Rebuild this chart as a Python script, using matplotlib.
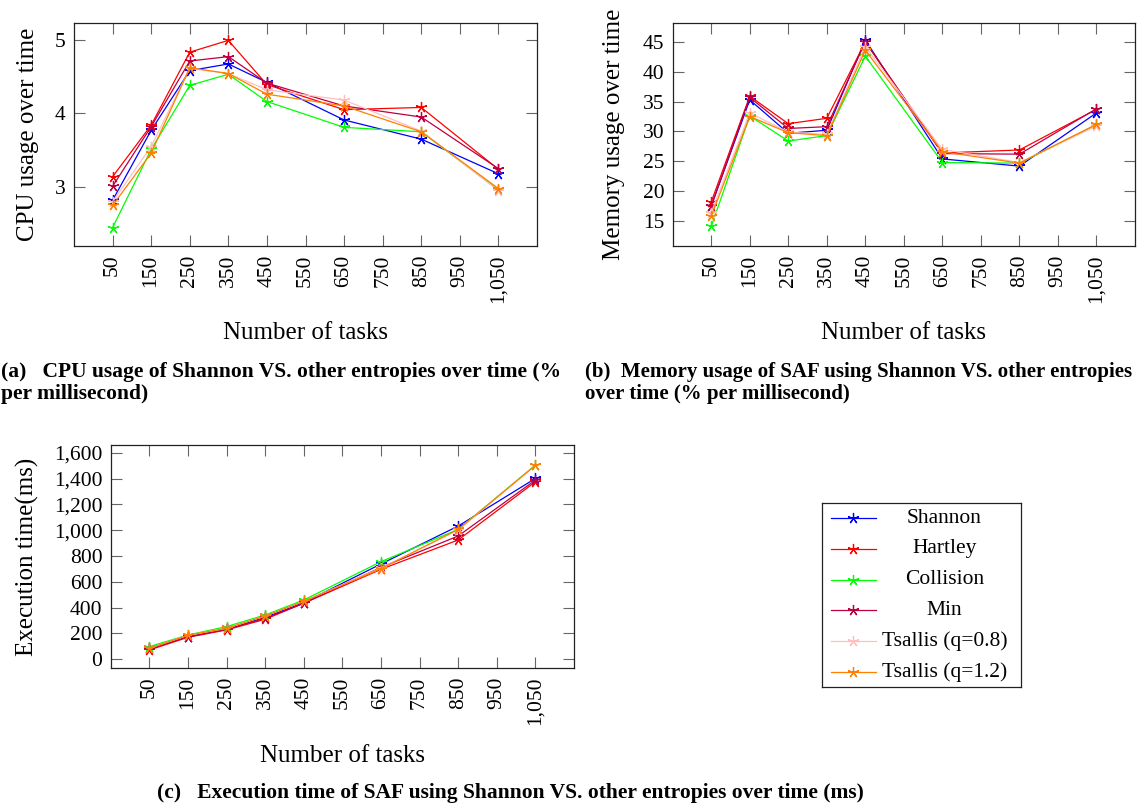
import matplotlib
matplotlib.use("Agg")
import matplotlib.pyplot as plt
from matplotlib.ticker import FuncFormatter, FixedLocator

plt.rcParams['font.family'] = ['Liberation Serif', 'DejaVu Serif']
plt.rcParams['mathtext.fontset'] = 'stix'

tasks = [50, 150, 250, 350, 450, 650, 850, 1050]
xticks = [50, 150, 250, 350, 450, 550, 650, 750, 850, 950, 1050]
series_names = ["Shannon", "Hartley", "Collision", "Min", "Tsallis (q=0.8)", "Tsallis (q=1.2)"]
series_colors = ["#0000FF", "#FF0000", "#00FF00", "#BF0040", "#FFBFBF", "#FF8000"]

# (a) CPU usage (% per millisecond)
cpu_shannon = [2.82, 3.77, 4.58, 4.67, 4.42, 3.91, 3.65, 3.18]
cpu_hartley = [3.14, 3.84, 4.83, 4.99, 4.39, 4.05, 4.08, 3.24]
cpu_collision = [2.45, 3.51, 4.38, 4.53, 4.16, 3.81, 3.75, 2.96]
cpu_min = [3.01, 3.82, 4.71, 4.77, 4.41, 4.10, 3.95, 3.25]
cpu_ts08 = [2.80, 3.55, 4.61, 4.54, 4.32, 4.18, 3.76, 2.95]
cpu_ts12 = [2.75, 3.46, 4.62, 4.54, 4.26, 4.10, 3.75, 2.98]

# (b) Memory usage (% per millisecond)
mem_shannon = [17.5, 35.3, 29.7, 30.2, 45.3, 25.4, 24.2, 33.1]
mem_hartley = [18.2, 35.9, 31.3, 32.2, 45.0, 26.4, 26.9, 33.7]
mem_collision = [14.1, 32.6, 28.4, 29.3, 42.6, 24.8, 24.7, 31.1]
mem_min = [17.5, 35.7, 30.5, 30.8, 45.0, 26.3, 26.2, 33.8]
mem_ts08 = [16.4, 33.1, 29.9, 29.5, 44.2, 27.0, 24.8, 30.9]
mem_ts12 = [15.8, 32.5, 29.8, 29.3, 43.6, 26.6, 24.7, 31.2]

# (c) Execution time (ms)
exe_shannon = [85, 175, 232, 325, 439, 738, 1032, 1401]
exe_hartley = [72, 170, 227, 310, 434, 697, 924, 1375]
exe_collision = [98, 188, 253, 343, 459, 756, 1006, 1505]
exe_min = [77, 175, 232, 317, 434, 712, 955, 1388]
exe_ts08 = [85, 186, 240, 335, 449, 707, 1001, 1502]
exe_ts12 = [85, 186, 240, 335, 449, 702, 1006, 1502]

cpu_all = [cpu_shannon, cpu_hartley, cpu_collision, cpu_min, cpu_ts08, cpu_ts12]
mem_all = [mem_shannon, mem_hartley, mem_collision, mem_min, mem_ts08, mem_ts12]
exe_all = [exe_shannon, exe_hartley, exe_collision, exe_min, exe_ts08, exe_ts12]

W, H = 1144, 806
fig = plt.figure(figsize=(W / 100, H / 100), dpi=100)


def box(l, t, r, b):
    return [l / W, 1 - b / H, (r - l) / W, (b - t) / H]


TICK_FS = 15.5
LABEL_FS = 18
CAP_FS = 15.5
thousands = FuncFormatter(lambda v, p: f"{v:,.0f}")


def style(ax, ylim, yticks, ylabel, ylabelx):
    ax.set_xlim(-50, 1150)
    ax.set_ylim(*ylim)
    ax.xaxis.set_major_locator(FixedLocator(xticks))
    ax.yaxis.set_major_locator(FixedLocator(yticks))
    ax.xaxis.set_major_formatter(thousands)
    ax.yaxis.set_major_formatter(thousands)
    ax.tick_params(direction='in', length=8, width=0.8, color='#666666',
                   top=True, right=True, labelsize=TICK_FS, pad=6)
    for lab in ax.get_xticklabels():
        lab.set_rotation(90)
    for s in ax.spines.values():
        s.set_linewidth(0.9)
        s.set_color('#222222')
    ax.set_xlabel("Number of tasks", fontsize=LABEL_FS, labelpad=14)
    ax.set_ylabel(ylabel, fontsize=LABEL_FS)
    ax.yaxis.set_label_coords(ylabelx, 0.5)


def draw(ax, data):
    for vals, name, col in zip(data, series_names, series_colors):
        ax.plot(tasks, vals, color=col, lw=0.9, marker=(5, 2, 0),
                markersize=8, markeredgewidth=0.9, label=name)


ax_a = fig.add_axes(box(74, 22.7, 537, 246))
draw(ax_a, cpu_all)
style(ax_a, (2.2, 5.23), [3, 4, 5], "CPU usage over time", -0.076)

ax_b = fig.add_axes(box(672.7, 22.7, 1135, 246))
draw(ax_b, mem_all)
style(ax_b, (10.83, 48.2), [15, 20, 25, 30, 35, 40, 45], "Memory usage over time", -0.104)

ax_c = fig.add_axes(box(110.7, 445, 574, 668.3))
draw(ax_c, exe_all)
style(ax_c, (-70, 1660), [0, 200, 400, 600, 800, 1000, 1200, 1400, 1600],
      "Execution time(ms)", -0.155)

# captions
fig.text(1 / W, 1 - 372 / H, "(a)   CPU usage of Shannon VS. other entropies over time (%",
         fontsize=CAP_FS, fontweight='bold', va='center', ha='left')
fig.text(1 / W, 1 - 394 / H, "per millisecond)",
         fontsize=CAP_FS, fontweight='bold', va='center', ha='left')
fig.text(585 / W, 1 - 372 / H, "(b)  Memory usage of SAF using Shannon VS. other entropies",
         fontsize=15.0, fontweight='bold', va='center', ha='left')
fig.text(585 / W, 1 - 394 / H, "over time (% per millisecond)",
         fontsize=15.0, fontweight='bold', va='center', ha='left')
fig.text(510 / W, 1 - 793 / H, "(c)   Execution time of SAF using Shannon VS. other entropies over time (ms)",
         fontsize=CAP_FS, fontweight='bold', va='center', ha='center')

# legend (drawn as a small frame, entries centred like pgfplots)
ax_l = fig.add_axes(box(822, 503, 1021, 687))
ax_l.set_xlim(0, 1)
ax_l.set_ylim(6, 0)
ax_l.set_xticks([])
ax_l.set_yticks([])
for s in ax_l.spines.values():
    s.set_linewidth(0.9)
    s.set_color('#222222')
for i, (name, col) in enumerate(zip(series_names, series_colors)):
    y = i + 0.5
    ax_l.plot([0.045, 0.27], [y, y], color=col, lw=0.9)
    ax_l.plot([0.158], [y], color=col, marker=(5, 2, 0), markersize=8, markeredgewidth=0.9)
    ax_l.text(0.615, y, name, fontsize=TICK_FS, ha='center', va='center')

fig.savefig("out.png", dpi=100)
